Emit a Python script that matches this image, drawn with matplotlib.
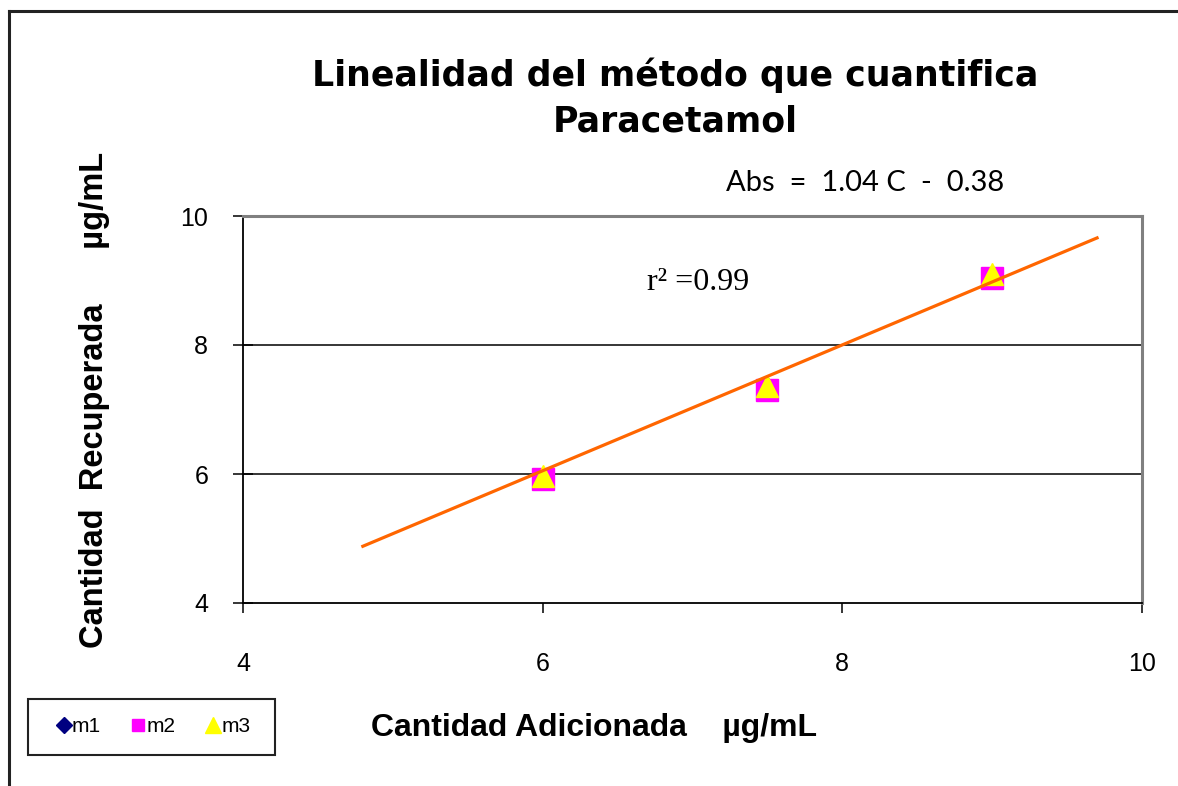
import matplotlib
matplotlib.use("Agg")
import matplotlib.pyplot as plt
from matplotlib.lines import Line2D
from matplotlib.patches import Rectangle

# Added amount (µg/mL) and recovered amount for the three replicates
added = [6.0, 7.5, 9.0]
m1 = [5.95, 7.40, 8.97]
m2 = [5.92, 7.30, 9.04]
m3 = [5.97, 7.37, 9.10]

# Fitted trend line, drawn between its two end points
trend_x = [4.79, 9.71]
trend_y = [4.87, 9.67]

x_ticks = [4, 6, 8, 10]
y_ticks = [4, 6, 8, 10]

plt.rcParams["font.family"] = ["Liberation Sans", "DejaVu Sans"]

W, H = 1178, 786
fig = plt.figure(figsize=(W / 100, H / 100), dpi=100)
fig.patch.set_facecolor("white")

# outer chart frame (continues past the right and bottom edges)
fig.add_artist(Line2D([9 / W, 9 / W], [0, 1 - 11 / H], color="#222222", lw=2.2,
                      transform=fig.transFigure))
fig.add_artist(Line2D([9 / W, 1.0], [1 - 11 / H, 1 - 11 / H], color="#222222", lw=2.2,
                      transform=fig.transFigure))

ax = fig.add_axes([243 / W, 1 - 603 / H, (1142 - 243) / W, (603 - 216) / H])
ax.set_xlim(4, 10)
ax.set_ylim(4, 10)

for y in [6, 8]:
    ax.axhline(y, color="black", lw=1.1, zorder=1)

ax.plot(added, m1, linestyle="none", marker="D", markersize=7, color="#000080", zorder=3)
ax.plot(added, m2, linestyle="none", marker="s", markersize=15.5, color="#FF00FF", zorder=4)
ax.plot(added, m3, linestyle="none", marker="^", markersize=15.5, color="#FFFF00", zorder=5)
ax.plot(trend_x, trend_y, color="#FF6600", lw=2.3, zorder=6, solid_capstyle="butt")

ax.set_xticks(x_ticks)
ax.set_yticks(y_ticks)
ax.set_xticklabels([str(v) for v in x_ticks], fontsize=18)
ax.set_yticklabels([str(v) for v in y_ticks], fontsize=18)
ax.tick_params(axis="x", direction="out", length=7, width=1.1, pad=28, colors="black")
ax.tick_params(axis="y", direction="inout", length=14, width=1.1, pad=18, colors="black")

ax.spines["left"].set_color("black")
ax.spines["left"].set_linewidth(1.3)
ax.spines["bottom"].set_color("black")
ax.spines["bottom"].set_linewidth(1.3)
ax.spines["top"].set_color("#808080")
ax.spines["top"].set_linewidth(2.2)
ax.spines["right"].set_color("#808080")
ax.spines["right"].set_linewidth(2.2)

# Title
fig.text(675 / W, 1 - 75 / H, "Linealidad del método que cuantifica",
         ha="center", va="center", fontsize=25, fontweight="bold",
         family=["DejaVu Sans"])
fig.text(675 / W, 1 - 122 / H, "Paracetamol",
         ha="center", va="center", fontsize=25, fontweight="bold",
         family=["DejaVu Sans"])

# Regression equation and coefficient
fig.text(865 / W, 1 - 183 / H, "Abs  =  1.04 C  -  0.38", ha="center", va="center",
         fontsize=21, family=["Lato", "DejaVu Sans"])
fig.text(698 / W, 1 - 283 / H, "r² =0.99", ha="center", va="center",
         fontsize=23, family=["Liberation Serif", "DejaVu Serif"])

# Axis titles
fig.text(95 / W, 1 - 400 / H, "Cantidad  Recuperada      µg/mL", rotation=90,
         ha="center", va="center", fontsize=23.5, fontweight="bold")
fig.text(594 / W, 1 - 728 / H, "Cantidad Adicionada    µg/mL",
         ha="center", va="center", fontsize=23, fontweight="bold")

# Legend
handles = [
    Line2D([], [], linestyle="none", marker="D", markersize=8, color="#000080", label="m1"),
    Line2D([], [], linestyle="none", marker="s", markersize=9, color="#FF00FF", label="m2"),
    Line2D([], [], linestyle="none", marker="^", markersize=11, color="#FFFF00", label="m3"),
]
leg = fig.legend(handles=handles, loc="center", bbox_to_anchor=(154 / W, 1 - 727 / H),
                 ncol=3, fontsize=15, frameon=False, handlelength=0.6,
                 handletextpad=0.1, columnspacing=1.5)
fig.add_artist(Rectangle((28 / W, 1 - 755 / H), (275 - 28) / W, (755 - 699) / H,
                         transform=fig.transFigure, fill=False, edgecolor="#222222",
                         lw=1.5))

fig.savefig("out.png", dpi=100, facecolor="white")
